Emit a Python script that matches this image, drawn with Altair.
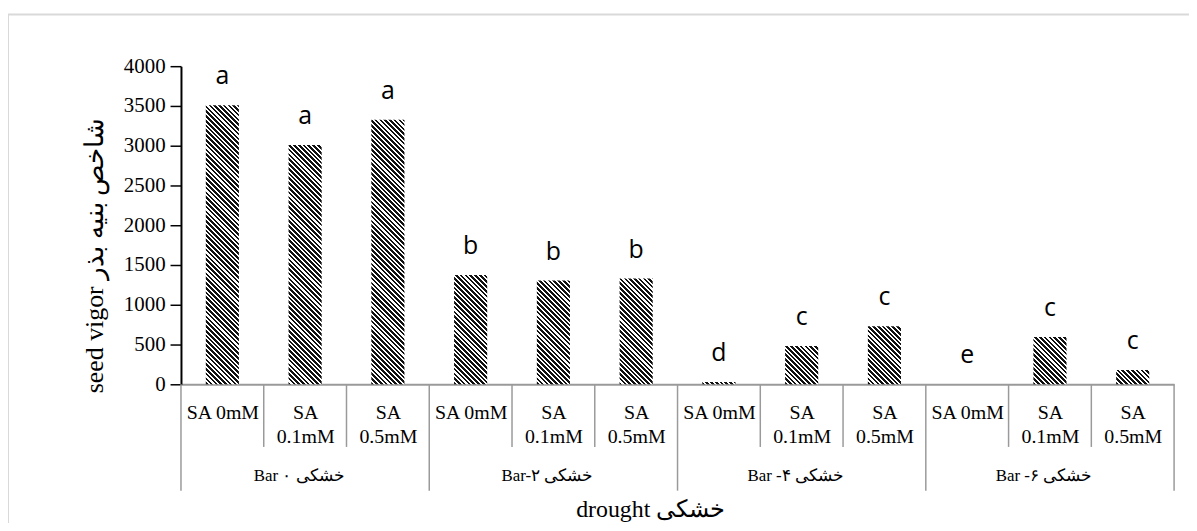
import json
import altair as alt
import pandas as pd

# ---------------- data ----------------
groups = ["Bar ۰ خشکی", "Bar-۲ خشکی", "Bar -۴ خشکی", "Bar -۶ خشکی"]
treatments = ["SA 0mM", "SA 0.1mM", "SA 0.5mM"]
seed_vigor = [3510, 3010, 3325, 1375, 1305, 1330, 30, 480, 730, 0, 595, 180]
letters = ["a", "a", "a", "b", "b", "b", "d", "c", "c", "e", "c", "c"]
y_ticks = [0, 500, 1000, 1500, 2000, 2500, 3000, 3500, 4000]
y_title = "seed vigor شاخص بنیه بذر"
x_title = "drought خشکی"

# ---------------- layout / style ----------------
W, H = 999, 320
YMAX = 4000
SERIF = "Liberation Serif"
SANS = "Open Sans"
GRID = "#9a9a9a"
DARK = "#111111"
LIGHT = "#ffffff"

rows = []
for gi, g in enumerate(groups):
    for ti, t in enumerate(treatments):
        k = gi * len(treatments) + ti
        rows.append({"pos": k, "group": g, "treatment": t,
                     "value": seed_vigor[k], "letter": letters[k]})
df = pd.DataFrame(rows)
n = len(df)
nt = len(treatments)

xscale = alt.Scale(domain=[0, n], nice=False, zero=False)
yscale = alt.Scale(domain=[0, YMAX], nice=False)

bar_w_px = 0.4 * W / n


def stripe_fill(v, period=4.8, duty=0.55):
    """diagonal hatch made from a linear gradient in bounding-box units"""
    h = max(v / YMAX * H, 1.0)
    w = bar_w_px
    t = (w + h) / (w * w + h * h)
    total = w + h
    stops = []
    j = 0
    while j * period < total:
        a = j * period / total
        b = min((j + duty) * period / total, 1.0)
        c = min((j + 1) * period / total, 1.0)
        stops += [{"offset": a, "color": DARK}, {"offset": b, "color": DARK},
                  {"offset": b, "color": LIGHT}, {"offset": c, "color": LIGHT}]
        j += 1
    return {"gradient": "linear", "x1": 0, "y1": 1, "x2": w * t, "y2": 1 - h * t,
            "stops": stops}


wrapped = [t if len(t) <= 6 else t.split(" ") for t in treatments]
label_expr = f"{json.dumps(wrapped, ensure_ascii=False)}[floor(datum.value) % {nt}]"

xaxis = alt.Axis(values=[k + 0.5 for k in range(n)], labelExpr=label_expr,
                 ticks=False, grid=False, domainColor=GRID, domainWidth=2,
                 labelFont=SERIF, labelFontSize=20, labelColor="black",
                 labelPadding=18, labelLineHeight=25, labelBaseline="top",
                 labelFlush=False, labelOverlap=False,
                 title=x_title, titleFont=SERIF, titleFontSize=24,
                 titleFontWeight="normal", titleColor="black",
                 titleX=472, titleY=126, titleAlign="center", titleBaseline="middle")

yaxis = alt.Axis(values=y_ticks, format="d", grid=False, domainColor="black", domainWidth=2,
                 tickColor="black", tickSize=11, tickWidth=1.5,
                 labelFont=SERIF, labelFontSize=21, labelColor="black", labelPadding=5,
                 title=y_title, titleFont=SERIF, titleFontSize=26,
                 titleFontWeight="normal", titleColor="black",
                 titleX=-87, titleY=190, titleAngle=270,
                 titleAlign="center", titleBaseline="middle")

base = alt.Chart(df).transform_calculate(
    x0="datum.pos + 0.3", x1="datum.pos + 0.7", xc="datum.pos + 0.5")

bar_layers = []
for k, v in enumerate(seed_vigor):
    bar_layers.append(
        base.transform_filter(f"datum.pos == {k}")
        .mark_bar(fill=stripe_fill(v), strokeWidth=0)
        .encode(
            x=alt.X("x0:Q", scale=xscale, axis=xaxis),
            x2="x1:Q",
            y=alt.Y("value:Q", scale=yscale, axis=yaxis),
            y2=alt.datum(0),
        )
    )

letter_layer = base.mark_text(font=SANS, fontSize=25, baseline="middle", dy=-29,
                              color="black").encode(
    x=alt.X("xc:Q", scale=xscale, axis=xaxis),
    y=alt.Y("value:Q", scale=yscale, axis=yaxis),
    text="letter:N",
)

div_df = pd.DataFrame({"b": list(range(n + 1))})
sub_div = alt.Chart(div_df).transform_filter(f"datum.b % {nt} != 0").mark_rule(
    color=GRID, strokeWidth=1.5).encode(
    x=alt.X("b:Q", scale=xscale, axis=xaxis), y=alt.value(H), y2=alt.value(H + 63))
grp_div = alt.Chart(div_df).transform_filter(f"datum.b % {nt} == 0").mark_rule(
    color=GRID, strokeWidth=1.5).encode(
    x=alt.X("b:Q", scale=xscale, axis=xaxis), y=alt.value(H), y2=alt.value(H + 107))

grp_df = pd.DataFrame({"group": groups, "gi": list(range(len(groups)))})
grp_text = alt.Chart(grp_df).transform_calculate(
    gx=f"datum.gi * {nt} + {nt / 2}").mark_text(
    font=SERIF, fontSize=17, baseline="middle", color="black", dx=-6).encode(
    x=alt.X("gx:Q", scale=xscale, axis=xaxis), y=alt.value(H + 92), text="group:N")

frame = alt.Chart(pd.DataFrame({"f": [0]})).mark_rect(
    fill="transparent", stroke="#d9d9d9", strokeWidth=2).encode(
    x=alt.value(-174), y=alt.value(-52), x2=alt.value(1030), y2=alt.value(480))

chart = alt.layer(frame, *bar_layers, letter_layer, sub_div, grp_div, grp_text).properties(
    width=W, height=H,
    padding={"left": 174, "top": 57, "right": 15, "bottom": 138},
    autosize="none",
    background="white",
).configure_view(stroke="transparent")

chart.save("out.html", embed_options={"renderer": "svg", "actions": False})
